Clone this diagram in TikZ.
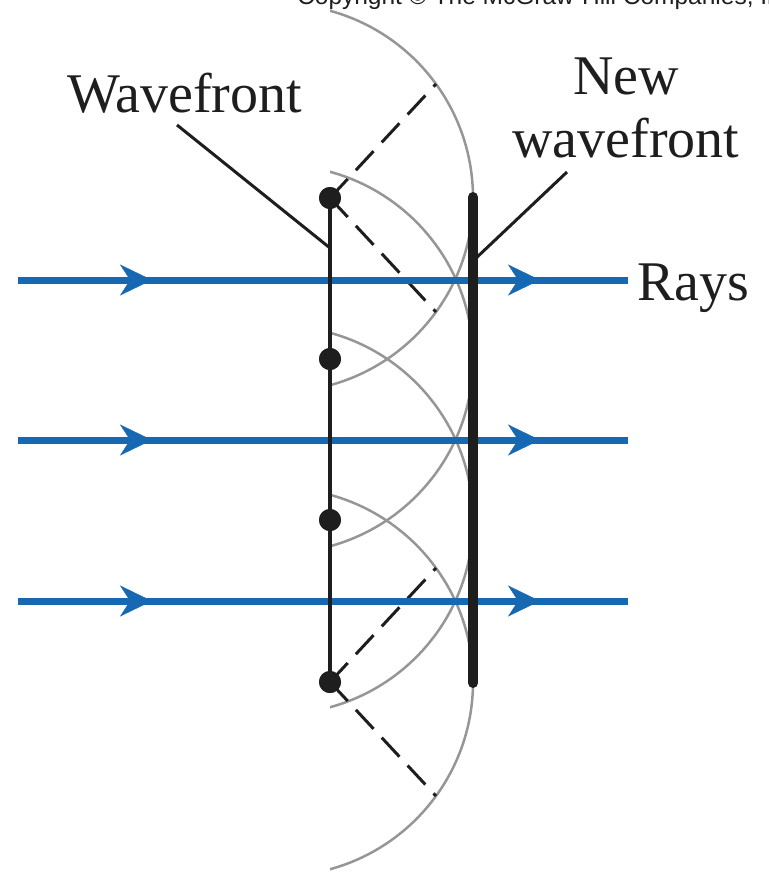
\documentclass[tikz,border=0pt]{standalone}
\usepackage{fontspec}
\setmainfont{Liberation Serif}
\newfontfamily\cpfont{Liberation Sans}
\usetikzlibrary{arrows.meta,decorations.markings}
\definecolor{raybl}{RGB}{22,104,178}
\definecolor{wavegray}{RGB}{150,150,150}
\definecolor{inkblk}{RGB}{30,30,30}
\begin{document}
\begin{tikzpicture}[x=1pt,y=-1pt,
  raytip/.tip={Stealth[length=32pt,width=31pt,inset=10pt,line width=0.5pt]},
  lbl/.style={font=\fontsize{56}{64}\selectfont, inner sep=0pt, text=inkblk},
  wavelet/.style={draw=wavegray, line width=2.5pt},
  guide/.style={draw=inkblk, line width=3pt, dash pattern=on 26pt off 12pt},
  ray/.style={color=raybl, line width=7pt, postaction={decorate},
    decoration={markings,
      mark=at position 134pt with {\arrow{raytip}},
      mark=at position 522pt with {\arrow{raytip}}}},
  front/.style={draw=inkblk, line width=4.5pt},
  newfront/.style={draw=inkblk, line width=10pt, line cap=round},
  leader/.style={draw=inkblk, line width=3pt},
  srcdot/.style={circle, fill=inkblk, minimum size=22pt, inner sep=0pt}
]
\useasboundingbox (0,0) rectangle (769,879);
\clip (0,0) rectangle (769,879);

% copyright line (cut at the top edge)
\node[font=\cpfont\fontsize{24.5}{28}\selectfont, anchor=base west, inner sep=0pt, text=inkblk]
  (copy) at (297,4) {Copyright © The McGraw-Hill Companies, Inc. Permission required for reproduction or display.};

% Huygens wavelets
\begin{scope}
  \clip (330,0) rectangle (769,879);
  \foreach \yy in {198,359,520,682}
    \draw[wavelet] (279,\yy) circle[radius=194pt];
\end{scope}

% source points
\node[srcdot] (d1) at (330,198) {};
\node[srcdot] (d2) at (330,359) {};
\node[srcdot] (d3) at (330,520) {};
\node[srcdot] (d4) at (330,682) {};

% dashed edge lines
\coordinate (g1) at (436,84);
\coordinate (g2) at (436,312);
\coordinate (g3) at (436,568);
\coordinate (g4) at (436,796);
\draw[guide] (d1.center) -- (g1);
\draw[guide] (d1.center) -- (g2);
\draw[guide] (d4.center) -- (g3);
\draw[guide] (d4.center) -- (g4);

% rays
\coordinate (r1a) at (18,280);  \coordinate (r1b) at (628,280);
\coordinate (r2a) at (18,440);  \coordinate (r2b) at (628,440);
\coordinate (r3a) at (18,601);  \coordinate (r3b) at (628,601);
\draw[ray] (r1a) -- (r1b);
\draw[ray] (r2a) -- (r2b);
\draw[ray] (r3a) -- (r3b);

% wavefronts
\draw[front] (d1.center) -- (d4.center);
\coordinate (n1) at (473,197);
\coordinate (n2) at (473,683);
\draw[newfront] (n1) -- (n2);

% dots on top
\node[srcdot] at (d1) {};
\node[srcdot] at (d2) {};
\node[srcdot] at (d3) {};
\node[srcdot] at (d4) {};

% labels
\node[lbl, anchor=base west] (wf) at (67,112) {Wavefront};
\node[lbl, anchor=base] (nwa) at (626,94) {New};
\node[lbl, anchor=base] (nwb) at (626,157) {wavefront};
\node[lbl, anchor=base west] (rays) at (637,300) {Rays};

% leaders
\coordinate (wfs) at (177,125);
\coordinate (wfe) at (330,248);
\draw[leader] (wfs) -- (wfe);
\coordinate (nws) at (567,172);
\coordinate (nwe) at (474,260);
\draw[leader] (nws) -- (nwe);
\end{tikzpicture}
\end{document}
